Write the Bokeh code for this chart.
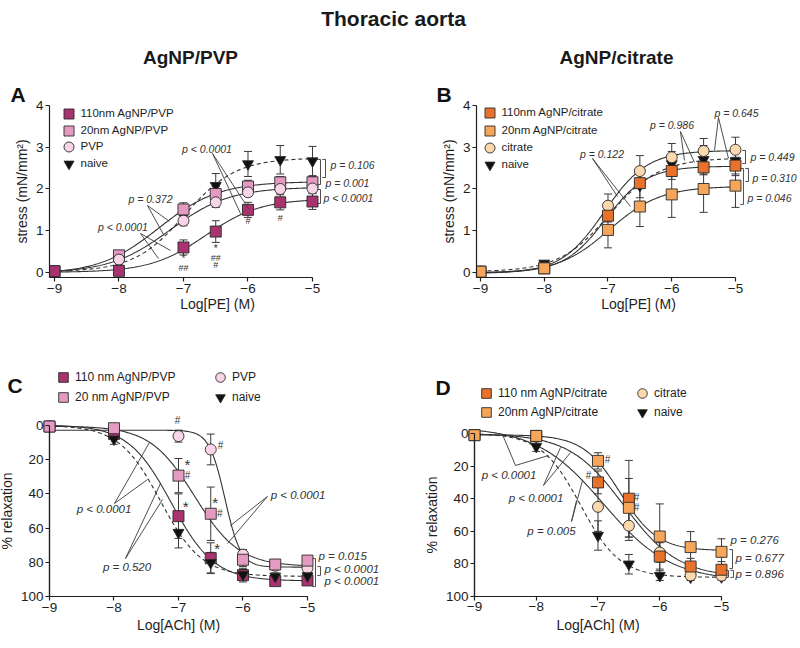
import numpy as np
from bokeh.plotting import figure
from bokeh.models import (Range1d, ColumnDataSource, Whisker, TeeHead, Label, LabelSet,
                          Legend, LegendItem, FixedTicker)
from bokeh.core.properties import value
from bokeh.layouts import column, row
from bokeh.embed import file_html
from bokeh.resources import INLINE

FONT = "Liberation Sans"
INK = "#1e1e1e"
LINE = "#333333"

# ---------------- data ----------------
log_conc = [-9, -8, -7, -6.5, -6, -5.5, -5]
x_ticks = [-9, -8, -7, -6, -5]
stress_ticks = [0, 1, 2, 3, 4]
relax_ticks = [0, 20, 40, 60, 80, 100]

# A: PE contraction, AgNP/PVP (stress, mN/mm2)
pe_110_pvp = [0.03, 0.04, 0.60, 0.98, 1.50, 1.68, 1.70]
pe_110_pvp_sem = [0.03, 0.03, 0.18, 0.26, 0.18, 0.18, 0.19]
pe_20_pvp = [0.03, 0.41, 1.51, 1.88, 2.06, 2.16, 2.16]
pe_20_pvp_sem = [0.03, 0.10, 0.16, 0.18, 0.15, 0.14, 0.14]
pe_pvp = [0.03, 0.31, 1.24, 1.68, 1.92, 2.00, 2.01]
pe_pvp_sem = [0.03, 0.08, 0.12, 0.12, 0.10, 0.10, 0.10]
pe_naive = [0.02, 0.22, 1.36, 2.08, 2.60, 2.70, 2.67]
pe_naive_sem = [0.02, 0.05, 0.15, 0.29, 0.30, 0.34, 0.35]

# B: PE contraction, AgNP/citrate
pe_110_cit = [0.02, 0.10, 1.36, 2.14, 2.43, 2.52, 2.56]
pe_110_cit_sem = [0.02, 0.03, 0.10, 0.12, 0.20, 0.18, 0.20]
pe_20_cit = [0.02, 0.10, 1.02, 1.58, 1.87, 2.00, 2.08]
pe_20_cit_sem = [0.02, 0.03, 0.43, 0.48, 0.55, 0.56, 0.52]
pe_cit = [0.02, 0.11, 1.60, 2.43, 2.76, 2.91, 2.94]
pe_cit_sem = [0.02, 0.03, 0.28, 0.37, 0.33, 0.30, 0.30]

# C: ACh relaxation, AgNP/PVP (%)
ach_110_pvp = [0.6, 4.9, 53.0, 77.6, 87.5, 91.0, 90.6]
ach_110_pvp_sem = [1.0, 3.0, 13.0, 9.0, 4.0, 2.0, 2.0]
ach_20_pvp = [0.6, 1.6, 29.3, 51.6, 78.5, 81.3, 79.0]
ach_20_pvp_sem = [1.0, 1.5, 10.0, 15.6, 4.0, 2.0, 2.0]
ach_pvp = [0.5, 2.0, 6.2, 14.0, 75.5, 82.0, 83.4]
ach_pvp_sem = [1.0, 1.5, 3.5, 9.0, 3.0, 2.0, 2.0]
ach_naive = [0.6, 8.0, 62.6, 80.2, 87.2, 88.2, 88.0]
ach_naive_sem = [1.0, 3.0, 9.0, 6.0, 3.0, 2.0, 2.0]

# D: ACh relaxation, AgNP/citrate (%)
ach_110_cit = [1.0, 1.5, 30.0, 40.0, 75.5, 81.6, 83.6]
ach_110_cit_sem = [1.0, 1.5, 7.0, 23.5, 12.0, 5.0, 5.0]
ach_20_cit = [1.0, 1.5, 16.8, 45.6, 63.2, 69.7, 72.6]
ach_20_cit_sem = [1.0, 1.5, 5.0, 18.0, 20.0, 9.5, 8.0]
ach_cit = [1.0, 2.0, 45.0, 56.6, 73.0, 87.1, 87.2]
ach_cit_sem = [1.0, 1.5, 15.0, 9.0, 6.0, 2.0, 2.0]

C_110_PVP, C_20_PVP, C_PVP = "#A8336F", "#E59AC2", "#F7D5E6"
C_110_CIT, C_20_CIT, C_CIT = "#E8722B", "#F6A65A", "#FCD8AE"
C_NAIVE = "#111111"
EDGE = "#2a2a2a"

XS = np.linspace(-9, -5, 241)


def fit_curve(x, y, xs):
    """4-parameter logistic least-squares fit of the read points."""
    x = np.asarray(x, float)
    y = np.asarray(y, float)
    lec = np.arange(-9.0, -5.0, 0.01)[:, None, None]
    hill = np.arange(0.4, 5.0, 0.02)[None, :, None]
    s = 1.0 / (1.0 + 10.0 ** ((lec - x[None, None, :]) * hill))
    sm = s.mean(-1, keepdims=True)
    ym = y.mean()
    cov = ((s - sm) * (y - ym)).sum(-1)
    var = ((s - sm) ** 2).sum(-1)
    span = cov / var
    bottom = ym - span * sm[..., 0]
    pred = bottom[..., None] + span[..., None] * s
    sse = ((pred - y) ** 2).sum(-1)
    i, j = np.unravel_index(np.argmin(sse), sse.shape)
    L = lec[i, 0, 0]
    H = hill[0, j, 0]
    return bottom[i, j] + span[i, j] / (1.0 + 10.0 ** ((L - xs) * H))


def make_panel(width, height, borders, xr, yr, xlabel, ylabel, yticks, xbounds, ybounds,
               x_label_standoff, fixed=None):
    left, right, top, bottom = borders
    p = figure(width=width, height=height, x_range=Range1d(*xr), y_range=Range1d(*yr),
               toolbar_location=None, output_backend="svg",
               min_border_left=left, min_border_right=right,
               min_border_top=top, min_border_bottom=bottom)
    p.grid.visible = False
    p.outline_line_color = None
    for ax in (p.xaxis[0], p.yaxis[0]):
        ax.axis_line_color = INK
        ax.axis_line_width = 1.2
        ax.major_tick_line_color = INK
        ax.major_tick_line_width = 1.2
        ax.major_tick_out = 4
        ax.major_tick_in = 0
        ax.minor_tick_line_color = None
        ax.major_label_text_font = FONT
        ax.major_label_text_font_size = "13.5px"
        ax.major_label_text_color = INK
        ax.major_label_standoff = 2
        ax.axis_label_text_font = FONT
        ax.axis_label_text_font_size = "14px"
        ax.axis_label_text_font_style = "normal"
        ax.axis_label_text_color = INK
    p.xaxis.axis_label = xlabel
    p.yaxis.axis_label = ylabel
    p.xaxis.axis_label_standoff = x_label_standoff
    p.yaxis.axis_label_standoff = 3
    p.xaxis.ticker = FixedTicker(ticks=x_ticks)
    p.yaxis.ticker = FixedTicker(ticks=yticks)
    p.xaxis.bounds = xbounds
    p.yaxis.bounds = ybounds
    if fixed is not None:
        # axes pinned at the data corner (x = -9, y = 100); the frame fills the panel
        p.yaxis.fixed_location = xbounds[0]
        p.xaxis.fixed_location = ybounds[1]
        p.segment(x0=[xbounds[0], xbounds[0]], y0=[ybounds[0], ybounds[1]],
                  x1=[xbounds[0], xbounds[1]], y1=[ybounds[1], ybounds[1]],
                  line_color=INK, line_width=1.2)
    return p


def draw(p, series):
    """series: list of (y, sem, marker, fill, dashed); returns scatter renderers."""
    for y, sem, marker, fill, dashed in series:
        p.line(XS, fit_curve(log_conc, y, XS), line_color=LINE, line_width=1.1,
               line_dash="4 3" if dashed else "solid")
    rends = []
    for y, sem, marker, fill, dashed in series:
        ya = np.asarray(y)
        sa = np.asarray(sem)
        src = ColumnDataSource(dict(x=log_conc, y=y, upper=ya + sa, lower=ya - sa))
        w = Whisker(base="x", upper="upper", lower="lower", source=src, level="underlay",
                    line_color="#3a3a3a", line_width=1,
                    upper_head=TeeHead(size=8, line_color="#3a3a3a", line_width=1),
                    lower_head=TeeHead(size=8, line_color="#3a3a3a", line_width=1))
        p.add_layout(w)
        r = p.scatter("x", "y", source=src, marker=marker, size=11, fill_color=fill,
                      line_color=EDGE, line_width=0.9)
        rends.append(r)
    return rends


def legend_rows(p, entries, vx, glyph, font_size):
    """one single-item legend per row so rows can sit closer than the glyph box.
    entries: list of (label, renderer, vy)"""
    for label, r, vy in entries:
        lg = Legend(items=[LegendItem(label=label, renderers=[r])],
                    location=(vx, vy), orientation="vertical", glyph_width=glyph,
                    glyph_height=glyph, spacing=0, padding=0, margin=0, label_standoff=0,
                    label_height=10, label_text_font=FONT, label_text_font_size=font_size,
                    label_text_color=INK, border_line_color=None, background_fill_alpha=0)
        p.add_layout(lg)


def annotate(p, center_labels, left_labels, pfont, leaders, brackets, tick, sig):
    if center_labels:
        t, x, y = zip(*center_labels)
        p.add_layout(LabelSet(x="x", y="y", text="t",
                              source=ColumnDataSource(dict(t=list(t), x=list(x), y=list(y))),
                              text_font=value(FONT), text_font_size=pfont, text_font_style="italic",
                              text_color="#333333", text_align="center", text_baseline="middle"))
    if left_labels:
        t, x, y = zip(*left_labels)
        p.add_layout(LabelSet(x="x", y="y", text="t",
                              source=ColumnDataSource(dict(t=list(t), x=list(x), y=list(y))),
                              text_font=value(FONT), text_font_size=pfont, text_font_style="italic",
                              text_color="#333333", text_align="left", text_baseline="middle"))
    if leaders:
        p.multi_line([l[0] for l in leaders], [l[1] for l in leaders],
                     line_color="#3a3a3a", line_width=0.9)
    if brackets:
        p.multi_line([[bx - tick, bx, bx, bx - tick] for bx, y0, y1 in brackets],
                     [[y0, y0, y1, y1] for bx, y0, y1 in brackets],
                     line_color="#3a3a3a", line_width=0.9)
    for txt, x, y, fs in sig:
        p.add_layout(Label(x=x, y=y, text=txt, text_font=FONT, text_font_size=fs,
                           text_color="#333333", text_align="center", text_baseline="middle"))


def letter_title(p, txt, offset):
    p.title.text = txt
    p.title.align = "left"
    p.title.offset = offset
    p.title.standoff = 0
    p.title.text_font = FONT
    p.title.text_font_size = "21px"
    p.title.text_font_style = "bold"
    p.title.text_color = "#111111"


def letter_label(p, x, y, txt):
    p.add_layout(Label(x=x, y=y, text=txt, text_font=FONT, text_font_size="21px",
                       text_font_style="bold", text_color="#111111", text_baseline="middle"))


# ---------------- header ----------------
header = figure(width=800, height=75, x_range=Range1d(0, 800), y_range=Range1d(75, 0),
                x_axis_location=None, y_axis_location=None, toolbar_location=None,
                output_backend="svg", min_border=0)
header.outline_line_color = None
header.grid.visible = False
header.add_layout(Label(x=393, y=18, text="Thoracic aorta", text_font=FONT, text_font_size="21px",
                        text_font_style="bold", text_color="#1a1a1a", text_align="center",
                        text_baseline="middle"))
header.add_layout(Label(x=190, y=57, text="AgNP/PVP", text_font=FONT, text_font_size="19px",
                        text_font_style="bold", text_color="#1a1a1a", text_align="center",
                        text_baseline="middle"))
header.add_layout(Label(x=616, y=57, text="AgNP/citrate", text_font=FONT, text_font_size="19px",
                        text_font_style="bold", text_color="#1a1a1a", text_align="center",
                        text_baseline="middle"))

# ---------------- panel A ----------------
pA = make_panel(400, 241, (49, 15, 30, 39), (-9.0775, -3.868), (-0.12, 4.0),
                "Log[PE] (M)", "stress (mN/mm\u00b2)", stress_ticks,
                (-9.0775, -5), (-0.12, 4), 0)
letter_title(pA, "A", -39)
rA = draw(pA, [
    (pe_naive, pe_naive_sem, "inverted_triangle", C_NAIVE, True),
    (pe_20_pvp, pe_20_pvp_sem, "square", C_20_PVP, False),
    (pe_pvp, pe_pvp_sem, "circle", C_PVP, False),
    (pe_110_pvp, pe_110_pvp_sem, "square", C_110_PVP, False),
])
legend_rows(pA, [("110nm AgNP/PVP", rA[3], 151.5), ("20nm AgNP/PVP", rA[1], 134.5),
                 ("PVP", rA[2], 118.5), ("naive", rA[0], 101.5)], 6.5, 25, "11.5px")
annotate(pA,
         [("p < 0.0001", -6.636, 2.97), ("p = 0.372", -7.512, 1.772), ("p < 0.0001", -7.938, 1.078)],
         [("p = 0.106", -4.721, 2.563), ("p = 0.001", -4.80, 2.132), ("p <  0.0001", -4.83, 1.796)],
         "10.5px",
         [([-6.116, -6.550, -5.992], [1.413, 2.850, 1.533]),
          ([-7.217, -7.558, -7.310], [1.222, 1.605, 0.910]),
          ([-7.388, -7.667, -7.202], [0.335, 0.934, 0.527])],
         [(-4.876, 2.707, 2.108), (-4.798, 2.707, 2.275), (-4.876, 1.988, 1.653)], 0.05,
         [("*", -7, 0.335, "10px"), ("##", -7, 0.096, "9px"), ("*", -6.5, 0.575, "10px"),
          ("##", -6.5, 0.359, "9px"), ("#", -6.5, 0.168, "9px"), ("#", -6, 1.245, "9px"),
          ("#", -5.5, 1.317, "9px")])

# ---------------- panel B ----------------
pB = make_panel(400, 241, (76, 0, 30, 39), (-9.0627, -3.980), (-0.12, 4.0),
                "Log[PE] (M)", "stress (mN/mm\u00b2)", stress_ticks,
                (-9.0627, -5), (-0.12, 4), 0)
letter_title(pB, "B", -40)
rB = draw(pB, [
    (pe_naive, pe_naive_sem, "inverted_triangle", C_NAIVE, True),
    (pe_cit, pe_cit_sem, "circle", C_CIT, False),
    (pe_110_cit, pe_110_cit_sem, "square", C_110_CIT, False),
    (pe_20_cit, pe_20_cit_sem, "square", C_20_CIT, False),
])
legend_rows(pB, [("110nm AgNP/citrate", rB[2], 152.5), ("20nm AgNP/citrate", rB[3], 134.5),
                 ("citrate", rB[1], 117.5), ("naive", rB[0], 100.5)], 0.5, 25, "11.5px")
annotate(pB,
         [("p = 0.122", -7.094, 2.850), ("p = 0.986", -5.996, 3.521), ("p = 0.645", -4.984, 3.832)],
         [("p = 0.449", -4.765, 2.778), ("p = 0.310", -4.733, 2.275), ("p = 0.046", -4.812, 1.796)],
         "10.5px",
         [([-6.647, -7.243, -6.851], [1.581, 2.731, 1.820]),
          ([-5.800, -5.863, -5.643], [2.683, 3.377, 2.635]),
          ([-5.329, -5.267, -5.110], [2.922, 3.713, 2.731])],
         [(-4.843, 2.922, 2.611), (-4.796, 2.491, 2.180), (-4.875, 2.491, 1.629)], 0.05,
         [])

# ---------------- panel C ----------------
pC = make_panel(400, 324, (0, 0, 0, 0), (-9.7597, -3.5581), (125.73, -63.74),
                "Log[ACh] (M)", "% relaxation", relax_ticks,
                (-9, -5), (0, 100), 2, fixed=True)
rC = draw(pC, [
    (ach_pvp, ach_pvp_sem, "circle", C_PVP, False),
    (ach_110_pvp, ach_110_pvp_sem, "square", C_110_PVP, False),
    (ach_naive, ach_naive_sem, "inverted_triangle", C_NAIVE, True),
    (ach_20_pvp, ach_20_pvp_sem, "square", C_20_PVP, False),
])
letter_label(pC, -9.651, -23.4, "C")
legend_rows(pC, [("110 nm AgNP/PVP", rC[1], 251), ("20 nm AgNP/PVP", rC[3], 231)], 51, 24, "12px")
legend_rows(pC, [("PVP", rC[0], 251), ("naive", rC[2], 231)], 208, 24, "12px")
annotate(pC,
         [("p < 0.0001", -8.155, 49.1), ("p = 0.520", -7.798, 83.0), ("p < 0.0001", -5.147, 40.9)],
         [("p = 0.015", -4.829, 76.6), ("p < 0.0001", -4.736, 84.2), ("p < 0.0001", -4.736, 91.2)],
         "11.5px",
         [([-7.450, -7.992, -7.481], [9.94, 45.6, 31.6]),
          ([-7.279, -7.822, -7.248], [33.9, 77.8, 43.3]),
          ([-6.194, -5.620, -6.240], [58.5, 41.5, 69.0])],
         [(-4.876, 77.8, 94.2), (-4.798, 82.5, 87.7)], 0.05,
         [("#", -7.016, -2.9, "10px"), ("#", -6.349, 11.7, "10px"), ("*", -6.86, 22.8, "15px"),
          ("#", -6.86, 29.2, "10px"), ("*", -6.89, 47.4, "15px"), ("*", -6.43, 45.0, "15px"),
          ("#", -6.36, 51.5, "10px"), ("*", -6.40, 71.9, "15px")])

# ---------------- panel D ----------------
pD = make_panel(400, 324, (0, 0, 0, 0), (-10.1984, -3.7206), (127.0, -71.78),
                "Log[ACh] (M)", "% relaxation", relax_ticks,
                (-9, -5), (0, 100), 2, fixed=True)
rD = draw(pD, [
    (ach_naive, ach_naive_sem, "inverted_triangle", C_NAIVE, True),
    (ach_cit, ach_cit_sem, "circle", C_CIT, False),
    (ach_110_cit, ach_110_cit_sem, "square", C_110_CIT, False),
    (ach_20_cit, ach_20_cit_sem, "square", C_20_CIT, False),
])
letter_label(pD, -9.632, -28.2, "D")
legend_rows(pD, [("110 nm AgNP/citrate", rD[2], 235), ("20nm AgNP/citrate", rD[3], 216)], 74, 24, "12px")
legend_rows(pD, [("citrate", rD[1], 235), ("naive", rD[0], 216)], 230, 24, "12px")
annotate(pD,
         [("p < 0.0001", -8.441, 25.2), ("p < 0.0001", -8.004, 39.3), ("p = 0.005", -7.753, 60.1)],
         [("p = 0.276", -4.854, 65.6), ("p = 0.677", -4.773, 76.1), ("p = 0.896", -4.773, 85.9)],
         "11.5px",
         [([-8.547, -8.336, -7.802], [0.6, 19.6, 13.5]),
          ([-7.445, -7.883, -7.607], [11.7, 31.9, 8.6]),
          ([-7.251, -7.429, -7.348], [28.8, 54.0, 41.1])],
         [(-4.822, 71.2, 82.8), (-4.887, 84.0, 88.3), (-4.806, 84.0, 88.3)], 0.05,
         [("#", -6.846, 16.0, "10px"), ("#", -7.154, 25.8, "10px"), ("#", -6.377, 39.3, "10px"),
          ("#", -6.377, 45.4, "10px")])

layout = column(header, row(pA, pB), row(pC, pD))
open("out.html", "w").write(file_html(layout, INLINE))
